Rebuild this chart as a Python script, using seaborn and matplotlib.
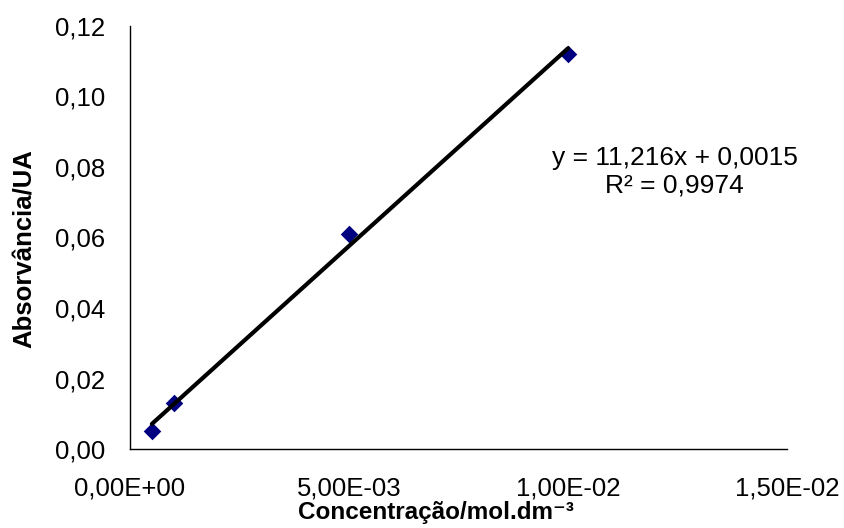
import numpy as np
import pandas as pd
import matplotlib
matplotlib.use("Agg")
import matplotlib.pyplot as plt
import seaborn as sns
from matplotlib.ticker import FuncFormatter

# Data
concentration = [0.0005, 0.001, 0.005, 0.01]
absorbance = [0.005, 0.013, 0.061, 0.112]
slope = 11.216
intercept = 0.0015
r_squared = "0,9974"
x_ticks = [0.0, 0.005, 0.01, 0.015]
y_ticks = [0.0, 0.02, 0.04, 0.06, 0.08, 0.10, 0.12]

sns.set_style("white")
plt.rcParams["font.family"] = ["Liberation Sans", "DejaVu Sans"]
plt.rcParams["text.color"] = "black"
plt.rcParams["axes.labelcolor"] = "black"

df = pd.DataFrame({"x": concentration, "y": absorbance})
fit_x = [min(concentration), max(concentration)]
fit_df = pd.DataFrame({"x": fit_x, "y": [slope * v + intercept for v in fit_x]})

fig = plt.figure(figsize=(8.45, 5.28), dpi=100)
ax = fig.add_axes([0.1538, 0.1496, 0.9314 - 0.1538, 0.9508 - 0.1496])

sns.scatterplot(data=df, x="x", y="y", marker="D", s=80, color="#000080",
                edgecolor="#000080", linewidth=0, ax=ax, zorder=2)
sns.lineplot(data=fit_df, x="x", y="y", color="black", linewidth=3.0, ax=ax, zorder=3)

ax.set_xlim(0, 0.015)
ax.set_ylim(0, 0.12)
ax.set_xticks(x_ticks)
ax.set_yticks(y_ticks)
ax.xaxis.set_major_formatter(FuncFormatter(lambda v, p: f"{v:.2E}".replace(".", ",")))
ax.yaxis.set_major_formatter(FuncFormatter(lambda v, p: f"{v:.2f}".replace(".", ",")))

for s in ["top", "right"]:
    ax.spines[s].set_visible(False)
for s in ["left", "bottom"]:
    ax.spines[s].set_color("black")
    ax.spines[s].set_linewidth(1.0)

ax.tick_params(axis="both", which="major", direction="out", length=5, width=0.8,
               color="#555555", labelsize=18.5, labelcolor="black")
ax.tick_params(axis="y", pad=13)
ax.tick_params(axis="x", pad=15)

ax.set_xlabel("Concentração/mol.dm⁻³", fontsize=17.5, fontweight="bold", va="baseline",
              color="black")
ax.set_ylabel("Absorvância/UA", fontsize=18.5, fontweight="bold", color="black")
ax.xaxis.set_label_coords(0.466, -0.1655)
ax.yaxis.set_label_coords(-0.142, 0.474)

ax.text(0.01243, 0.0786,
        f"y = {str(slope).replace('.', ',')}x + {str(intercept).replace('.', ',')}\nR² = {r_squared}",
        ha="center", va="center", fontsize=19, linespacing=1.2, color="black")

fig.savefig("out.png", dpi=100)
